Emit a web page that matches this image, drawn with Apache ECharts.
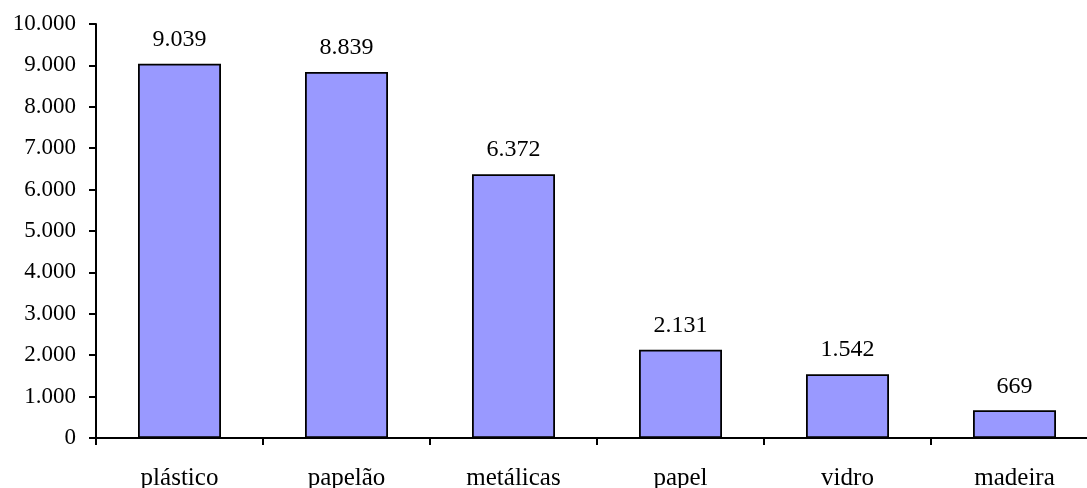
<!DOCTYPE html>
<html>
<head>
<meta charset="utf-8">
<script src="https://cdn.jsdelivr.net/npm/echarts@6/dist/echarts.min.js"></script>
<style>
  html, body { margin: 0; padding: 0; background: #fff; overflow: hidden; }
  /* the plot runs slightly past the right edge of the window */
  #chart { width: 1110px; height: 488px; }
</style>
</head>
<body>
<div id="chart"></div>
<script>
// Material categories and quantities
const categories = ['plástico', 'papelão', 'metálicas', 'papel', 'vidro', 'madeira'];
const values = [9039, 8839, 6372, 2131, 1542, 669];
const yMin = 0;
const yMax = 10000;
const yStep = 1000;

// Thousands separator with a dot (pt-BR style)
function fmt(v) {
  return String(Math.round(v)).replace(/\B(?=(\d{3})+(?!\d))/g, '.');
}

const font = '"Liberation Serif", "Times New Roman", serif';
const chart = echarts.init(document.getElementById('chart'));
chart.setOption({
  animation: false,
  backgroundColor: '#ffffff',
  grid: { left: 96, top: 24, width: 1002, height: 414, containLabel: false, outerBoundsMode: 'none' },
  xAxis: {
    type: 'category',
    data: categories,
    axisLine: { lineStyle: { color: '#000', width: 2 } },
    axisTick: { show: true, alignWithLabel: false, length: 7, lineStyle: { color: '#000', width: 2 } },
    axisLabel: { color: '#000', fontFamily: font, fontSize: 25, margin: 28 }
  },
  yAxis: {
    type: 'value',
    min: yMin,
    max: yMax,
    interval: yStep,
    splitLine: { show: false },
    axisLine: { show: true, lineStyle: { color: '#000', width: 2 } },
    axisTick: { show: true, length: 7, lineStyle: { color: '#000', width: 2 } },
    axisLabel: { color: '#000', fontFamily: font, fontSize: 23, margin: 20, formatter: fmt }
  },
  series: [{
    type: 'bar',
    data: values,
    barWidth: 83,
    itemStyle: { color: '#9999FF', borderColor: '#000', borderWidth: 1.8 },
    label: {
      show: true,
      position: 'top',
      distance: 12,
      color: '#000',
      fontFamily: font,
      fontSize: 24,
      formatter: p => fmt(p.value)
    }
  }]
});
</script>
</body>
</html>
